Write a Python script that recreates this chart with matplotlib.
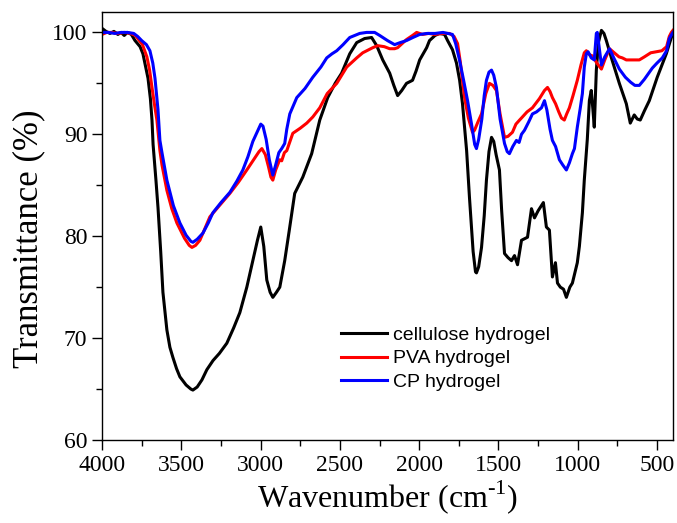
import matplotlib

matplotlib.use("Agg")
import matplotlib.pyplot as plt
from matplotlib.ticker import MultipleLocator

# FTIR spectra (wavenumber in cm-1, transmittance in %)
cell_wn = [4000, 3975, 3950, 3925, 3900, 3880, 3860, 3840, 3815, 3792, 3760, 3742, 3710, 3695,
           3685, 3678, 3660, 3647, 3630, 3616, 3591, 3572, 3553, 3530, 3509, 3470, 3440, 3427,
           3400, 3370, 3339, 3300, 3260, 3213, 3170, 3131, 3087, 3049, 3020, 2999, 2980, 2961,
           2940, 2923, 2900, 2879, 2848, 2820, 2785, 2734, 2678, 2627, 2577, 2530, 2489, 2438,
           2394, 2344, 2300, 2268, 2230, 2186, 2160, 2136, 2110, 2080, 2042, 2020, 1997, 1953,
           1935, 1900, 1872, 1840, 1821, 1790, 1765, 1745, 1727, 1701, 1683, 1660, 1645, 1639,
           1625, 1607, 1590, 1576, 1560, 1544, 1530, 1515, 1494, 1480, 1462, 1440, 1418, 1399,
           1380, 1355, 1330, 1317, 1292, 1273, 1250, 1217, 1198, 1179, 1160, 1141, 1128, 1110,
           1090, 1072, 1050, 1034, 1003, 990, 971, 959, 940, 927, 915, 905, 896, 883, 870, 851,
           835, 820, 788, 738, 694, 669, 644, 625, 606, 580, 549, 499, 442, 410, 400]
cell_t = [100.4, 100.1, 99.9, 100.1, 99.8, 100.0, 99.7, 100.0, 99.8, 99.2, 98.6, 97.9, 95.5, 93.5,
          91.4, 89.0, 85.5, 82.8, 78.5, 74.5, 70.8, 69.1, 68.1, 67.0, 66.2, 65.4, 65.0, 64.9,
          65.2, 65.9, 66.9, 67.8, 68.5, 69.5, 71.0, 72.5, 75.0, 77.6, 79.6, 80.9, 79.0, 75.7,
          74.5, 74.0, 74.5, 75.0, 77.6, 80.5, 84.2, 85.8, 88.1, 91.4, 93.6, 95.0, 96.0, 97.9,
          99.0, 99.4, 99.5, 98.7, 97.3, 96.0, 94.8, 93.8, 94.3, 95.0, 95.3, 96.2, 97.3, 98.5,
          99.2, 99.7, 99.9, 99.8, 99.2, 98.3, 97.0, 95.3, 93.0, 88.4, 83.8, 78.5, 76.5, 76.4,
          77.0, 78.9, 82.0, 85.5, 88.3, 89.7, 89.3, 88.0, 86.5, 82.5, 78.3, 77.9, 77.6, 78.1,
          77.2, 79.6, 79.8, 79.9, 82.7, 81.8, 82.5, 83.3, 80.9, 80.6, 76.0, 77.4, 75.4, 75.0,
          74.8, 74.0, 75.0, 75.4, 77.4, 79.0, 82.3, 85.5, 89.5, 93.3, 94.3, 92.5, 90.7, 96.3, 99.0,
          100.2, 99.9, 99.2, 97.5, 95.0, 93.0, 91.1, 91.9, 91.5, 91.4, 92.3, 93.3, 95.6, 97.9,
          99.5, 100.0]

pva_wn = [4000, 3970, 3940, 3900, 3860, 3820, 3790, 3770, 3745, 3717, 3700, 3685, 3670, 3654,
          3635, 3622, 3591, 3560, 3528, 3480, 3450, 3433, 3410, 3383, 3350, 3320, 3260, 3194,
          3140, 3087, 3040, 3010, 2992, 2970, 2950, 2935, 2923, 2905, 2880, 2867, 2850, 2835,
          2797, 2750, 2709, 2671, 2627, 2580, 2520, 2457, 2394, 2356, 2293, 2262, 2220, 2186,
          2155, 2136, 2080, 2042, 2016, 1979, 1940, 1900, 1850, 1809, 1780, 1758, 1740, 1725,
          1714, 1690, 1664, 1651, 1630, 1607, 1580, 1557, 1535, 1513, 1490, 1462, 1440, 1412,
          1390, 1367, 1355, 1320, 1286, 1242, 1210, 1191, 1175, 1160, 1140, 1120, 1103, 1085,
          1070, 1053, 1030, 1003, 980, 959, 946, 925, 908, 880, 851, 830, 800, 770, 740, 719,
          694, 650, 612, 580, 540, 505, 470, 440, 423, 410, 400]
pva_t = [99.8, 100.0, 100.0, 99.9, 100.0, 99.9, 99.7, 99.3, 98.8, 97.6, 96.3, 94.6, 93.0, 91.4,
         88.4, 87.0, 84.5, 82.7, 81.3, 79.8, 79.1, 78.9, 79.1, 79.6, 80.8, 81.9, 83.0, 84.2,
         85.3, 86.5, 87.6, 88.3, 88.6, 88.0, 86.8, 85.8, 85.5, 86.5, 87.5, 87.4, 88.2, 88.4,
         90.1, 90.6, 91.1, 91.7, 92.6, 94.0, 95.0, 96.6, 97.5, 98.0, 98.5, 98.7, 98.6, 98.4,
         98.4, 98.5, 99.3, 99.7, 100.0, 99.8, 99.9, 99.8, 99.9, 99.9, 99.6, 98.9, 97.0, 95.0,
         93.6, 91.6, 90.2, 90.4, 91.2, 92.0, 94.0, 95.0, 94.8, 94.3, 92.0, 89.7, 89.8, 90.2,
         91.0, 91.4, 91.6, 92.2, 92.6, 93.5, 94.3, 94.6, 94.2, 93.6, 93.0, 92.2, 91.6, 91.4,
         92.0, 92.6, 93.8, 95.3, 96.8, 98.0, 98.2, 97.8, 97.7, 97.0, 96.4, 97.3, 98.4, 98.0,
         97.6, 97.5, 97.3, 97.3, 97.3, 97.6, 98.0, 98.1, 98.2, 98.6, 99.6, 100.0, 100.2]

cp_wn = [4000, 3960, 3920, 3880, 3840, 3800, 3775, 3750, 3720, 3698, 3680, 3666, 3647, 3635,
         3622, 3591, 3550, 3509, 3470, 3440, 3427, 3400, 3364, 3330, 3301, 3250, 3194, 3150,
         3112, 3080, 3049, 3020, 2999, 2985, 2965, 2945, 2923, 2905, 2885, 2867, 2848, 2835,
         2816, 2772, 2720, 2671, 2620, 2583, 2550, 2520, 2480, 2438, 2375, 2331, 2281, 2249,
         2200, 2167, 2155, 2120, 2080, 2040, 1997, 1950, 1900, 1850, 1790, 1770, 1746, 1720,
         1695, 1670, 1650, 1639, 1625, 1605, 1590, 1576, 1560, 1544, 1530, 1513, 1490, 1462,
         1445, 1431, 1410, 1387, 1370, 1355, 1336, 1310, 1286, 1260, 1229, 1210, 1195, 1175,
         1160, 1140, 1116, 1095, 1072, 1053, 1034, 1021, 1003, 985, 971, 959, 946, 935, 915,
         896, 883, 877, 865, 851, 830, 800, 770, 738, 700, 666, 640, 612, 580, 530, 500, 467,
         440, 423, 400]
cp_t = [100.0, 100.0, 99.9, 100.0, 100.0, 99.9, 99.6, 99.2, 98.8, 98.2, 97.0, 95.5, 92.4, 89.4,
        88.2, 85.5, 83.0, 81.3, 80.1, 79.5, 79.4, 79.7, 80.3, 81.3, 82.3, 83.3, 84.3, 85.4,
        86.5, 87.8, 89.3, 90.3, 91.0, 90.8, 89.5, 87.5, 86.0, 87.0, 88.2, 88.6, 89.1, 90.5,
        92.0, 93.6, 94.5, 95.6, 96.6, 97.5, 97.9, 98.2, 98.8, 99.5, 99.9, 100.0, 100.0, 99.7,
        99.2, 98.9, 98.8, 99.0, 99.2, 99.5, 99.8, 99.9, 99.9, 100.0, 99.8, 98.9, 97.3, 95.3,
        93.3, 91.0, 89.0, 88.6, 89.5, 91.5, 93.8, 95.3, 96.1, 96.3, 95.8, 94.6, 91.5, 89.1,
        88.3, 88.1, 88.8, 89.4, 89.2, 90.0, 90.4, 91.2, 92.0, 92.2, 92.6, 93.3, 92.4, 90.5,
        89.4, 88.8, 87.5, 87.0, 86.5, 87.2, 88.1, 88.6, 90.7, 92.5, 94.0, 96.6, 97.9, 98.1, 97.5,
        97.3, 99.9, 100.0, 98.5, 96.8, 97.6, 98.4, 97.4, 96.4, 95.6, 95.1, 94.8, 94.8, 95.4,
        96.5, 97.0, 97.5, 98.2, 99.4, 100.0]

series = [
    (cell_wn, cell_t, "black", "cellulose hydrogel"),
    (pva_wn, pva_t, "#ff0000", "PVA hydrogel"),
    (cp_wn, cp_t, "#0000ff", "CP hydrogel"),
]

plt.rcParams["font.family"] = "Liberation Serif"
plt.rcParams["mathtext.fontset"] = "custom"
plt.rcParams["mathtext.rm"] = "Liberation Serif"

fig = plt.figure(figsize=(6.77, 5.23), dpi=100)
ax = fig.add_axes([0.1507, 0.1587, 0.8433, 0.8183])

for wn, t, color, label in series:
    ax.plot(wn, t, color=color, lw=2.2, label=label, solid_joinstyle="round")

ax.set_xlim(4000, 400)
ax.set_ylim(60, 102)
ax.xaxis.set_major_locator(MultipleLocator(500))
ax.xaxis.set_minor_locator(MultipleLocator(250))
ax.yaxis.set_major_locator(MultipleLocator(10))
ax.yaxis.set_minor_locator(MultipleLocator(5))
ax.tick_params(which="both", direction="out", top=False, right=False, labelsize=17, width=1)
ax.tick_params(which="major", length=7)
ax.tick_params(which="minor", length=4)
for sp in ax.spines.values():
    sp.set_linewidth(1)

ax.set_xlabel("Wavenumber (cm$^{\\mathregular{\u2010}\\mathregular{1}}$)", fontsize=23, labelpad=2)
ax.set_ylabel("Transmittance (%)", fontsize=25)
ax.yaxis.set_label_coords(-0.1, 0.47)

ax.legend(loc="center left", bbox_to_anchor=(0.418, 0.19), frameon=False,
          prop={"family": "Liberation Sans", "size": 14}, handlelength=2.4,
          handletextpad=0.3, labelspacing=0.3, borderpad=0, borderaxespad=0)

fig.savefig("out.png", dpi=100)
plt.close(fig)
